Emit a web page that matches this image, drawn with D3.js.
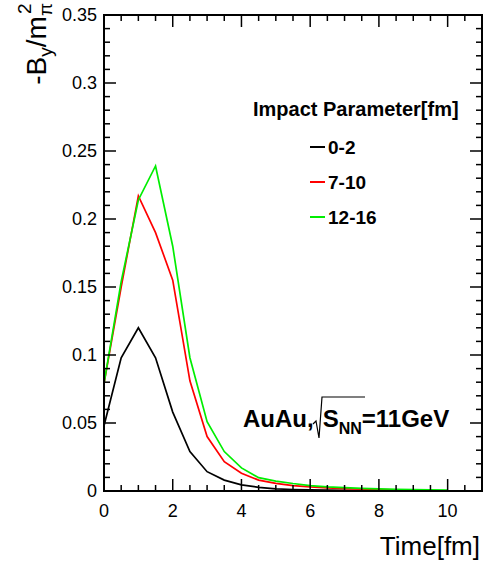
<!DOCTYPE html>
<html>
<head>
<meta charset="utf-8">
<script src="https://cdn.jsdelivr.net/npm/d3@7"></script>
<style>
  html, body { margin: 0; padding: 0; background: #fff; }
  svg { display: block; font-family: "Liberation Sans", Arial, Helvetica, sans-serif; }
</style>
</head>
<body>
<svg id="chart" width="483" height="563"></svg>
<script>
// ---- data ----
const time = [0, 0.5, 1, 1.5, 2, 2.5, 3, 3.5, 4, 4.5, 5, 5.5, 6, 6.5, 7, 7.5, 8, 8.5, 9, 9.5, 10];
const seriesNames = ["0-2", "7-10", "12-16"];
const seriesColors = ["#000000", "#ff0000", "#00ee00"];
const b0_2 = [0.048, 0.098, 0.120, 0.098, 0.058, 0.029, 0.0142, 0.008, 0.0045, 0.0027, 0.0016, 0.0011, 0.0008, 0.0006, 0.0004, 0.0003, 0.0002];
const b7_10 = [0.079, 0.150, 0.217, 0.190, 0.155, 0.081, 0.040, 0.0216, 0.013, 0.008, 0.0056, 0.004, 0.003, 0.0023, 0.0017, 0.0013, 0.001, 0.0008, 0.0006, 0.0005];
const b12_16 = [0.079, 0.154, 0.214, 0.239, 0.180, 0.098, 0.051, 0.029, 0.017, 0.0098, 0.0073, 0.0055, 0.004, 0.003, 0.0025, 0.002, 0.0016, 0.0013, 0.001, 0.0008, 0.0006];
const xTicks = [0, 2, 4, 6, 8, 10];
const yTicks = [0, 0.05, 0.1, 0.15, 0.2, 0.25, 0.3, 0.35];
const xTickLabels = ["0", "2", "4", "6", "8", "10"];
const yTickLabels = ["0", "0.05", "0.1", "0.15", "0.2", "0.25", "0.3", "0.35"];

const svg = d3.select("#chart");
const L = 104, R = 482, T = 15, B = 491;
const x = d3.scaleLinear().domain([0, 11]).range([L, R]);
const y = d3.scaleLinear().domain([0, 0.35]).range([B, T]);

const seriesVals = [b0_2, b7_10, b12_16];

// curves
const line = d3.line().x(d => x(d[0])).y(d => y(d[1]));
seriesVals.forEach((vals, i) => {
  const pts = vals.map((v, k) => [time[k], v]);
  svg.append("path").datum(pts)
    .attr("d", line)
    .attr("fill", "none")
    .attr("stroke", seriesColors[i])
    .attr("stroke-width", 1.7)
    .attr("stroke-linejoin", "miter");
});

// frame
svg.append("rect").attr("x", L).attr("y", T).attr("width", R - L).attr("height", B - T)
  .attr("fill", "none").attr("stroke", "#000").attr("stroke-width", 2);

// ticks
const major = 12, minor = 6;
const xMinor = d3.range(0, 11.001, 0.5);
const yMinor = d3.range(0, 0.3501, 0.01);
const tickG = svg.append("g").attr("stroke", "#000").attr("stroke-width", 1.5);
xMinor.forEach(t => {
  const isMaj = Math.abs(t / 2 - Math.round(t / 2)) < 1e-6;
  const len = isMaj ? major : minor;
  tickG.append("line").attr("x1", x(t)).attr("x2", x(t)).attr("y1", B).attr("y2", B - len);
  tickG.append("line").attr("x1", x(t)).attr("x2", x(t)).attr("y1", T).attr("y2", T + len);
});
yMinor.forEach(v => {
  const isMaj = Math.abs(v / 0.05 - Math.round(v / 0.05)) < 1e-6;
  const len = isMaj ? major : minor;
  tickG.append("line").attr("x1", L).attr("x2", L + len).attr("y1", y(v)).attr("y2", y(v));
  tickG.append("line").attr("x1", R).attr("x2", R - len).attr("y1", y(v)).attr("y2", y(v));
});

// tick labels
xTicks.forEach((t, i) => {
  svg.append("text").attr("x", x(t)).attr("y", 517)
    .attr("text-anchor", "middle").attr("font-size", 18).text(xTickLabels[i]);
});
yTicks.forEach((v, i) => {
  svg.append("text").attr("x", 97).attr("y", y(v)).attr("dy", "0.35em")
    .attr("text-anchor", "end").attr("font-size", 18).text(yTickLabels[i]);
});

// axis titles
svg.append("text").attr("x", 480).attr("y", 555).attr("text-anchor", "end")
  .attr("font-size", 26).text("Time[fm]");

const yt = svg.append("text").attr("transform", "translate(46,3) rotate(-90)")
  .attr("text-anchor", "end").attr("font-size", 28);
yt.append("tspan").text("-B");
yt.append("tspan").attr("font-size", 19).attr("dy", 6).text("y");
yt.append("tspan").attr("dy", -6).text("/m");
yt.append("tspan").attr("font-size", 19).attr("dy", 6).text("\u03c0");
yt.append("tspan").attr("font-size", 19).attr("dx", -11).attr("dy", -21).text("2");

// legend
svg.append("text").attr("x", 253).attr("y", 116).attr("font-size", 20).attr("font-weight", "bold")
  .text("Impact Parameter[fm]");
const legY = [147, 182, 217];
seriesNames.forEach((n, i) => {
  svg.append("line").attr("x1", 310).attr("x2", 325).attr("y1", legY[i]).attr("y2", legY[i])
    .attr("stroke", seriesColors[i]).attr("stroke-width", 2);
  svg.append("text").attr("x", 328).attr("y", legY[i] + 7).attr("font-size", 19).attr("font-weight", "bold")
    .text(n);
});

// annotation
const ann = svg.append("text").attr("x", 243).attr("y", 427).attr("font-size", 24).attr("font-weight", "bold");
ann.append("tspan").text("AuAu,");
ann.append("tspan").attr("dx", 9).text("S");
ann.append("tspan").attr("font-size", 16).attr("dy", 7).text("NN");
ann.append("tspan").attr("dy", -7).text("=11GeV");
// radical sign
svg.append("path")
  .attr("d", "M313,424 L316,421 L319,438 L322,397 L365,397")
  .attr("fill", "none").attr("stroke", "#000").attr("stroke-width", 1.2);
</script>
</body>
</html>
